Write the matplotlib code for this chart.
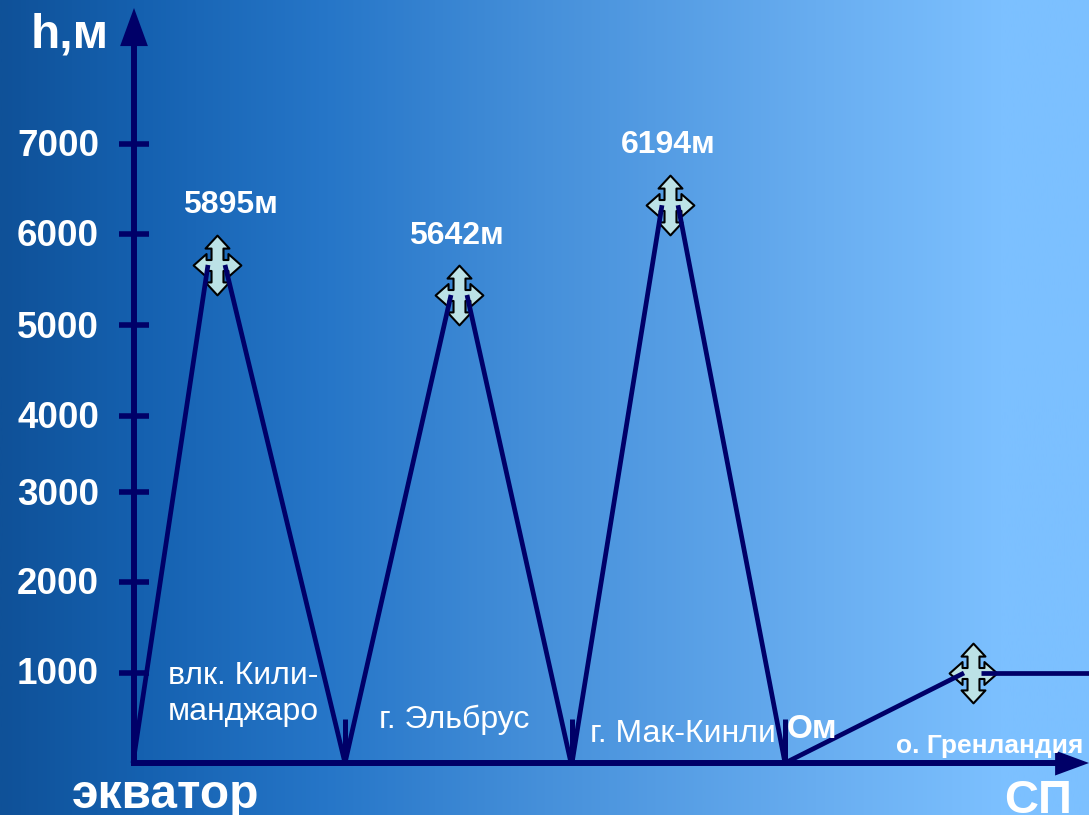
import numpy as np
import matplotlib
matplotlib.use("Agg")
import matplotlib.pyplot as plt
from matplotlib.colors import LinearSegmentedColormap
from matplotlib.path import Path

W, H = 1089, 815

# ---------------- Data ----------------
# height ticks and where they sit (the drawn axis is not quite even)
tick_values = [1000, 2000, 3000, 4000, 5000, 6000, 7000]
tick_labels = ["1000", "2000", "3000", "4000", "5000", "6000", "7000"]
scale_values = [-578, 0, 1000, 2000, 3000, 4000, 5000, 6000, 7000, 8600]
scale_pos = [0, 52, 142, 233, 323, 399, 490, 581, 671, 815]

# each slope: start x, start h, end x, end h
mountain_left_x = [133, 345, 572, 785]
mountain_right_x = [345, 571, 785, 1089]
summit_left_x = [208, 451, 662, 964]
summit_right_x = [225, 467, 678, 981]
summit_heights = [5660, 5330, 6320, 1000]
right_foot_heights = [0, 0, 0, 1000]
marker_x = [217, 459, 670, 973]

divider_x = [345, 572, 785]
divider_top = 490

NAVY = "#000068"


# ---------------- Helpers ----------------
def forward(v):
    return np.interp(v, scale_values, scale_pos)


def inverse(p):
    return np.interp(p, scale_pos, scale_values)


def move_cursor_path():
    # four way arrow, same shape as the slide's drag handles
    quarter = [(0, 30), (12, 17), (6, 17), (6, 5.5), (11, 5.5), (11, 11.5), (24, 0)]
    pts = list(quarter)
    pts += [(x, -y) for x, y in reversed(quarter[:-1])]
    pts += [(-x, -y) for x, y in quarter[1:]]
    pts += [(-x, y) for x, y in reversed(quarter[:-1])]
    return Path(pts, closed=True)


def px_text(fig, x, y, s, size, weight="bold", ha="center"):
    fig.text(x / W, 1 - y / H, s, fontsize=size, fontweight=weight, color="white",
             ha=ha, va="center", family="Liberation Sans")


# ---------------- Figure ----------------
fig = plt.figure(figsize=(W / 100, H / 100), dpi=100)

bg = fig.add_axes([0, 0, 1, 1])
cmap = LinearSegmentedColormap.from_list(
    "slide", [(0, "#0f5198"), (0.13, "#1561b0"), (0.3, "#2676c8"), (0.5, "#4690da"),
              (0.75, "#68adf0"), (0.92, "#7cc0ff"), (1, "#7cc0ff")])
bg.imshow(np.linspace(0, 1, 512).reshape(1, -1), cmap=cmap, aspect="auto", vmin=0, vmax=1)
bg.axis("off")

ax = fig.add_axes([0, 0, 1, 1], facecolor="none")
ax.set_yscale("function", functions=(forward, inverse))
ax.set_xlim(0, W)
ax.set_ylim(-578, 8600)
ax.axis("off")

for i in range(len(marker_x)):
    ax.plot([marker_x[i]], [summit_heights[i]], marker=move_cursor_path(), ms=43,
            mfc="#bce2e6", mec="black", mew=1.5, zorder=3, ls="none")
    ax.plot([mountain_left_x[i], summit_left_x[i]], [0, summit_heights[i]],
            color=NAVY, lw=3.4, zorder=4, solid_capstyle="butt")
    ax.plot([summit_right_x[i], mountain_right_x[i]], [summit_heights[i], right_foot_heights[i]],
            color=NAVY, lw=3.4, zorder=4, solid_capstyle="butt")

ax.vlines(divider_x, 0, divider_top, color=NAVY, lw=3.6, zorder=4)
ax.hlines(tick_values, 119, 149, color=NAVY, lw=4, zorder=4)

# axes, then the arrow heads on top of them
ax.plot([134, 134], [-30, 8100], color=NAVY, lw=4.3, zorder=5, solid_capstyle="butt")
ax.plot([131, 1060], [0, 0], color=NAVY, lw=4.3, zorder=5, solid_capstyle="butt")
ax.annotate("", xy=(134, 8511), xytext=(134, 8000), zorder=6,
            arrowprops=dict(arrowstyle="-|>,head_length=1.37,head_width=0.5", mutation_scale=20,
                            color=NAVY, lw=0, shrinkA=0, shrinkB=0))
ax.annotate("", xy=(1089, 0), xytext=(1050, 0), zorder=6,
            arrowprops=dict(arrowstyle="-|>,head_length=1.22,head_width=0.45", mutation_scale=20,
                            color=NAVY, lw=0, shrinkA=0, shrinkB=0))

# ---------------- Text ----------------
tick_y = [675, 584, 495, 419, 328, 237, 147]
for y, lab in zip(tick_y, tick_labels):
    px_text(fig, 58, y, lab, 26.5)

px_text(fig, 70, 35, "h,м", 34.5)
px_text(fig, 230, 205, "5895м", 23)
px_text(fig, 456, 236, "5642м", 23)
px_text(fig, 668, 145, "6194м", 23)
px_text(fig, 243, 676, "влк. Кили-", 23, weight="normal")
px_text(fig, 243, 712, "манджаро", 23, weight="normal")
px_text(fig, 454, 720, "г. Эльбрус", 23, weight="normal")
px_text(fig, 683, 734, "г. Мак-Кинли", 23, weight="normal")
px_text(fig, 812, 729, "Ом", 24)
px_text(fig, 990, 746, "о. Гренландия", 19)
px_text(fig, 166, 795, "экватор", 34.5)
px_text(fig, 1038, 801, "СП", 34)

fig.savefig("out.png", dpi=100)
plt.close(fig)
